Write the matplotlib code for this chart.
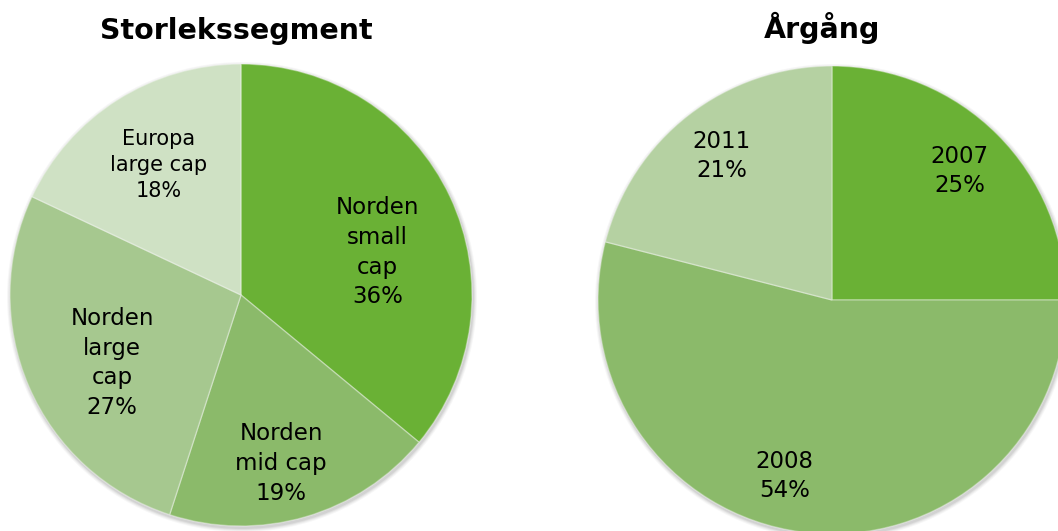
import matplotlib
matplotlib.use("Agg")
import matplotlib.pyplot as plt
import numpy as np
from matplotlib.patches import Circle

# Data
seg_labels = ["Norden\nsmall\ncap", "Norden\nmid cap", "Norden\nlarge\ncap", "Europa\nlarge cap"]
seg_values = [36, 19, 27, 18]
seg_colors = ["#6AB135", "#8BBA6A", "#A6C88F", "#CFE1C4"]

yr_labels = ["2007", "2008", "2011"]
yr_values = [25, 54, 21]
yr_colors = ["#6AB135", "#8BBA6A", "#B5D1A2"]

# Layout (pixel units)
W, H = 1058, 531
fig = plt.figure(figsize=(W / 100, H / 100), dpi=100)
ax = fig.add_axes([0, 0, 1, 1])

def draw_pie(values, colors, labels, cx, cy, r, lab_r, lab_dang, fs, ls):
    # soft shadow
    for k, a in [(4, 0.03), (3, 0.04), (2, 0.05), (1, 0.06)]:
        ax.add_patch(Circle((cx + 1, cy - 2), r + k, color="#000000", alpha=a, lw=0, zorder=0))
    wedges, _ = ax.pie(values, colors=colors, startangle=90, counterclock=False,
                       center=(cx, cy), radius=r, frame=True,
                       wedgeprops=dict(edgecolor=(1, 1, 1, 0.35), linewidth=1.0))
    for w in wedges:
        w.set_zorder(1)
    total = sum(values)
    start = 90.0
    for i, v in enumerate(values):
        span = 360.0 * v / total
        mid = start - span / 2 + lab_dang[i]
        start -= span
        x = cx + lab_r[i] * r * np.cos(np.radians(mid))
        y = cy + lab_r[i] * r * np.sin(np.radians(mid))
        ax.text(x, y, f"{labels[i]}\n{v}%", ha="center", va="center",
                fontsize=fs[i], color="#000000", linespacing=ls, zorder=3,
                family="DejaVu Sans")

draw_pie(seg_values, seg_colors, seg_labels, 241, H - 295, 231,
         lab_r=[0.62, 0.75, 0.63, 0.666], lab_dang=[-7.8, -2.8, 4.4, -0.2],
         fs=[16.5, 16.5, 16.5, 15], ls=1.37)
draw_pie(yr_values, yr_colors, yr_labels, 832, H - 300, 234,
         lab_r=[0.775, 0.78, 0.775], lab_dang=[0.2, -7.8, -0.3],
         fs=[16.5, 16.5, 16.5], ls=1.33)

ax.set_xlim(0, W)
ax.set_ylim(0, H)
ax.set_aspect("equal")
ax.axis("off")

ax.text(236, H - 39, "Storlekssegment", ha="center", va="baseline",
        fontsize=20.5, fontweight="bold", color="#000000", family="DejaVu Sans")
ax.text(822, H - 38, "Årgång", ha="center", va="baseline",
        fontsize=20.5, fontweight="bold", color="#000000", family="DejaVu Sans")

fig.savefig("out.png", dpi=100)
